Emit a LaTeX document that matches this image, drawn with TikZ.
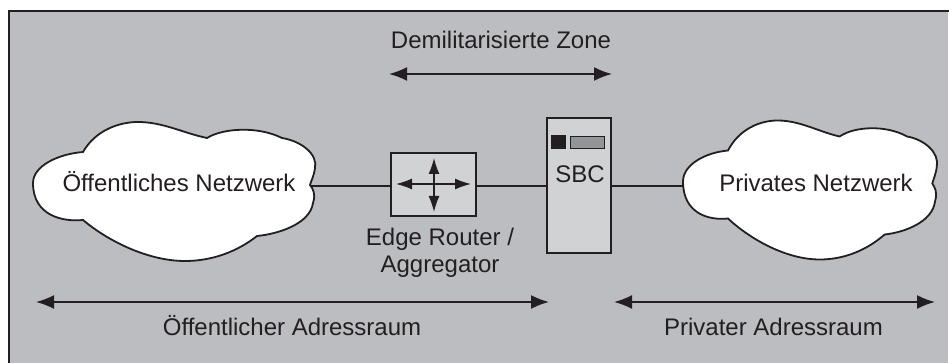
\documentclass[tikz,border=0pt]{standalone}
\usepackage{fontspec}
\setmainfont{Liberation Sans}
\usetikzlibrary{arrows.meta}
\definecolor{zonebg}{HTML}{BCBDC0}
\definecolor{boxbg}{HTML}{D1D2D4}
\definecolor{ink}{HTML}{231F20}
\definecolor{ledgrey}{HTML}{939598}
\tikzset{
  x=1pt,y=-1pt,
  wire/.style={draw=ink,line width=1.8pt},
  blockbox/.style={draw=ink,line width=1.8pt,fill=boxbg,inner sep=0pt},
  span/.style={draw=ink,line width=1.8pt,{Latex[length=18pt,width=14pt]}-{Latex[length=18pt,width=14pt]}},
  small/.style={draw=ink,line width=1.4pt,{Latex[length=16pt,width=11pt]}-{Latex[length=16pt,width=11pt]}},
  cloudline/.style={draw=ink,line width=1.8pt,fill=white},
  lbl/.style={text=ink,font=\fontsize{24}{27}\selectfont,inner sep=0pt,align=center,anchor=base}
}
\newcommand{\cloudpath}[3]{%
  \path[cloudline,shift={(#1,#2)},xscale=#3]
    (0,-3) .. controls (0,-20) and (25,-32) .. (50,-34)
    .. controls (62,-55) and (85,-64) .. (105,-64)
    .. controls (130,-64) and (150,-53) .. (174,-48)
    .. controls (190,-58) and (225,-60) .. (249,-48)
    .. controls (268,-45) and (285,-32) .. (282,-18)
    .. controls (281,-10) and (278,-5) .. (277,-1)
    .. controls (280,3) and (283,8) .. (280,17)
    .. controls (277,38) and (245,48) .. (224,50)
    .. controls (205,65) and (180,75) .. (152,75)
    .. controls (115,75) and (75,55) .. (50,34)
    .. controls (30,36) and (0,30) .. (0,-3) -- cycle;}
\begin{document}
\begin{tikzpicture}
\useasboundingbox (0,0) rectangle (949,363);
\path[fill=white] (0,0) rectangle (949,363);
\path[fill=zonebg] (9,11) rectangle (948,363);
\draw[ink,line width=2.6pt] (9,363) -- (9,11) -- (949,11);
\cloudpath{33}{186}{1}
\cloudpath{683}{184.5}{0.9}
\node[lbl] (pub) at (179,192) {Öffentliches Netzwerk};
\node[lbl] (priv) at (816,192) {Privates Netzwerk};
\coordinate (pubedge) at (310,186);
\coordinate (privedge) at (683,186);
\node[blockbox,minimum width=85pt,minimum height=63pt] (router) at (433.5,184.5) {};
\node[blockbox,minimum width=64pt,minimum height=135pt] (sbc) at (579,185.5) {};
\draw[wire] (pubedge) -- (router.west |- pubedge);
\draw[wire] (router.east |- privedge) -- (sbc.west |- privedge);
\draw[wire] (sbc.east |- privedge) -- (privedge);
\coordinate (rw) at (396,184);
\coordinate (re) at (471,184);
\coordinate (rn) at (434,158);
\coordinate (rs) at (434,212);
\draw[small] (rw) -- (re);
\draw[small] (rn) -- (rs);
\node[fill=ink,minimum width=15pt,minimum height=14pt,inner sep=0pt] (led) at (558.5,142) {};
\node[draw=ink,line width=1.4pt,fill=ledgrey,minimum width=34pt,minimum height=12.5pt,inner sep=0pt] (disp) at (587.5,142.5) {};
\node[lbl] (sbct) at (580,183) {SBC};
\node[lbl] (rta) at (440,245) {Edge Router /};
\node[lbl] (rtb) at (440,272) {Aggregator};
\node[lbl] (dmz) at (501,49) {Demilitarisierte Zone};
\coordinate (da) at (389,74);
\coordinate (db) at (612,74);
\draw[span] (da) -- (db);
\coordinate (pa) at (36,302);
\coordinate (pb) at (549,302);
\draw[span] (pa) -- (pb);
\coordinate (qa) at (614,302);
\coordinate (qb) at (935,302);
\draw[span] (qa) -- (qb);
\node[lbl] (pubt) at (292,335) {Öffentlicher Adressraum};
\node[lbl] (privt) at (773.5,335) {Privater Adressraum};
\end{tikzpicture}
\end{document}
